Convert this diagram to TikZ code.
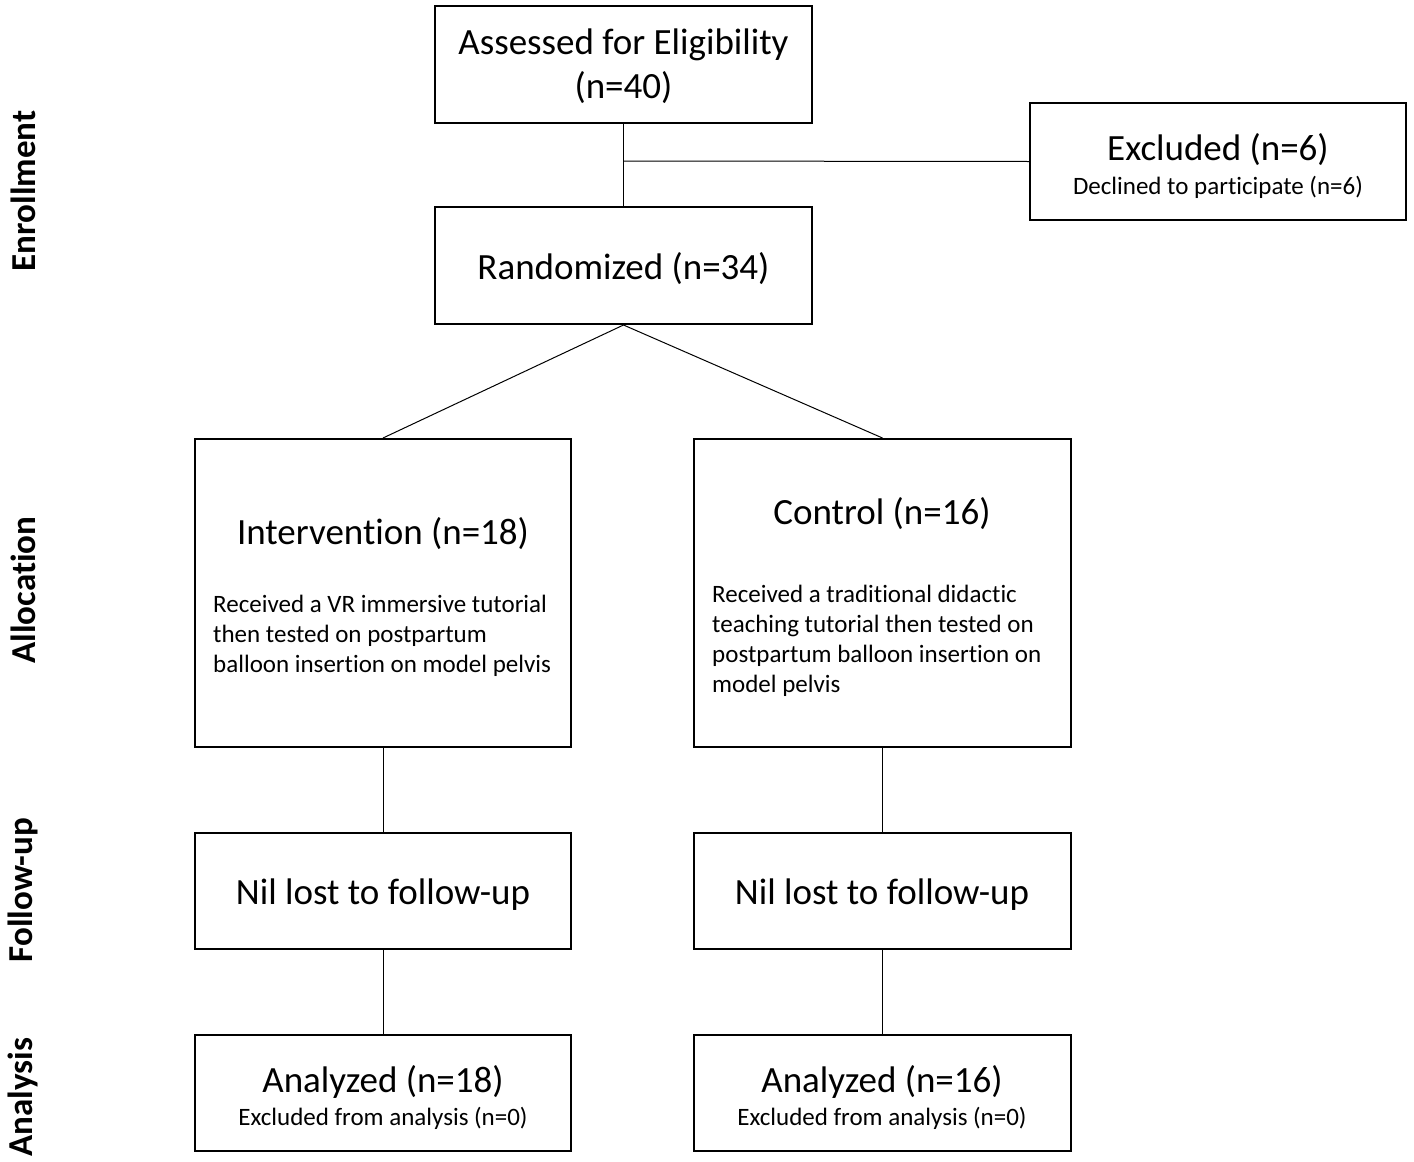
\documentclass[tikz,border=0pt]{standalone}
\usepackage{fontspec}
\setmainfont{Carlito}[Ligatures=NoCommon]
\begin{document}
\begin{tikzpicture}[x=1pt,y=-1pt,
  box/.style={draw=black,line width=2pt,inner sep=0pt,minimum width=377pt},
  shortbox/.style={box,minimum height=117pt},
  tallbox/.style={box,minimum height=308pt},
  conn/.style={draw=black,line width=1pt},
  big/.style={font=\fontsize{37}{44}\selectfont,inner sep=0pt,align=center},
  small/.style={font=\fontsize{25}{30}\selectfont,inner sep=0pt,align=center},
  body/.style={font=\fontsize{25}{30}\selectfont,inner sep=0pt,align=left,anchor=north west},
  side/.style={font=\fontsize{35}{35}\selectfont\bfseries,rotate=90,inner sep=0pt}
]
\useasboundingbox (0,0) rectangle (1414,1162);
% boxes
\node[shortbox] (assess) at (623.5,64.5) {};
\node[big] (assesst) at (623.5,66) {Assessed for Eligibility\\(n=40)};
\node[shortbox,minimum width=376pt] (excl) at (1218,161.5) {};
\node[big] (exclt) at (1218,150) {Excluded (n=6)};
\node[small] (excls) at (1218,187) {Declined to participate (n=6)};
\node[shortbox] (rand) at (623.5,265.5) {};
\node[big] (randt) at (623.5,269) {Randomized (n=34)};

\node[tallbox,minimum width=376pt] (intv) at (383,593) {};
\node[big] (intvt) at (383,534) {Intervention (n=18)};
\node[body] (intvb) at (213,595) {Received a VR immersive tutorial\\then tested on postpartum\\balloon insertion on model pelvis};

\node[tallbox] (ctrl) at (882.5,593) {};
\node[big] (ctrlt) at (882,514) {Control (n=16)};
\node[body] (ctrlb) at (712,585) {Received a traditional didactic\\teaching tutorial then tested on\\postpartum balloon insertion on\\model pelvis};

\node[box,minimum width=376pt,minimum height=116pt] (nill) at (383,891) {};
\node[big] (nillt) at (383,895) {Nil lost to follow-up};
\node[box,minimum height=116pt] (nilr) at (882.5,891) {};
\node[big] (nilrt) at (882,895) {Nil lost to follow-up};

\node[box,minimum width=376pt,minimum height=116pt] (anl) at (383,1093) {};
\node[big] (anlt) at (383,1082) {Analyzed (n=18)};
\node[small] (anls) at (383,1118) {Excluded from analysis (n=0)};
\node[box,minimum height=116pt] (anr) at (882.5,1093) {};
\node[big] (anrt) at (882,1082) {Analyzed (n=16)};
\node[small] (anrs) at (882,1118) {Excluded from analysis (n=0)};

% side labels
\node[side] (enr) at (23,191) {Enrollment};
\node[side] (alloc) at (23,590) {Allocation};
\node[side] (fup) at (23,890) {Follow-up};
\node[side] (ana) at (23,1097) {Analysis};

% connectors
\coordinate (junc) at (623.5,161);
\draw[conn] (assess.south) -- (rand.north);
\draw[conn] (junc) -- (excl.west);
\draw[conn] (rand.south) -- (intv.north);
\draw[conn] (rand.south) -- (ctrl.north);
\draw[conn] (intv.south) -- (nill.north);
\draw[conn] (ctrl.south) -- (nilr.north);
\draw[conn] (nill.south) -- (anl.north);
\draw[conn] (nilr.south) -- (anr.north);
\end{tikzpicture}
\end{document}
